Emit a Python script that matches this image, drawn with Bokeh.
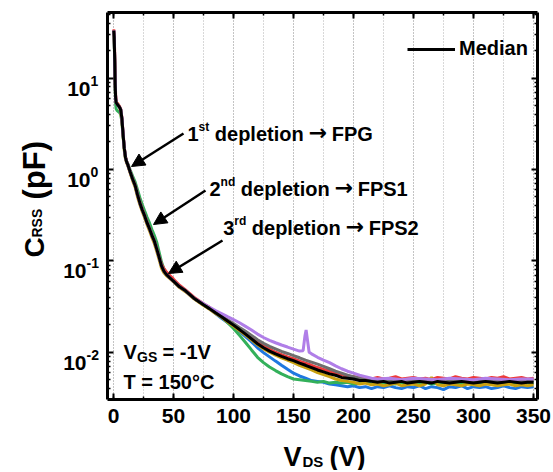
import math
from bokeh.plotting import figure
from bokeh.layouts import row, column
from bokeh.models import (Range1d, LinearAxis, LogAxis, SingleIntervalTicker,
                          FixedTicker, Label, Arrow, NormalHead, CustomJSTickFormatter)
from bokeh.embed import file_html
from bokeh.resources import INLINE

# ---------------- data (V_DS in V, C_RSS in pF) ----------------
V_LOW = [0.2, 0.6, 1.0, 1.4, 1.8, 2.2, 3, 4, 5, 6,
         7, 8, 9, 10, 11, 12, 14, 16, 18, 20,
         22, 24, 26, 28, 30, 32, 34, 36, 38, 40,
         42, 44, 47, 50, 55, 60, 67, 75, 80]

MEDIAN_LOW = [33, 28, 16, 8.5, 6.0, 5.4, 5.2, 5.0, 4.8, 4.5,
              3.6, 2.4, 1.7, 1.35, 1.2, 1.12, 0.93, 0.78, 0.67, 0.53,
              0.43, 0.36, 0.31, 0.26, 0.225, 0.19, 0.165, 0.135, 0.11, 0.088,
              0.077, 0.071, 0.065, 0.060, 0.052, 0.047, 0.039, 0.033, 0.030]
GREEN_LOW = [31, 26, 15, 8.0, 5.2, 4.6, 4.4, 4.3, 4.2, 4.0,
             3.3, 2.3, 1.7, 1.35, 1.22, 1.15, 0.98, 0.84, 0.73, 0.60,
             0.49, 0.41, 0.35, 0.30, 0.26, 0.22, 0.19, 0.16, 0.125, 0.097,
             0.082, 0.073, 0.066, 0.060, 0.052, 0.047, 0.039, 0.033, 0.030]
RED_LOW = [34, 30, 19, 10, 6.5, 5.6, 5.3, 5.1, 4.9, 4.6,
           3.7, 2.5, 1.75, 1.38, 1.22, 1.13, 0.94, 0.79, 0.68, 0.54,
           0.44, 0.37, 0.315, 0.265, 0.228, 0.193, 0.167, 0.137, 0.112, 0.092,
           0.082, 0.076, 0.069, 0.063, 0.054, 0.048, 0.040, 0.034, 0.031]
GOLD_LOW = [32, 27, 15, 8.2, 5.8, 5.4, 5.3, 5.1, 4.8, 4.3,
            3.4, 2.3, 1.6, 1.3, 1.17, 1.09, 0.9, 0.75, 0.64, 0.5,
            0.41, 0.345, 0.295, 0.248, 0.213, 0.18, 0.155, 0.127, 0.103, 0.083,
            0.074, 0.069, 0.064, 0.059, 0.051, 0.046, 0.0385, 0.0325, 0.0295]
BLUE_LOW = MEDIAN_LOW
GRAY_LOW = MEDIAN_LOW

V_TAIL = [85, 90, 95, 100, 105, 110, 115, 120, 125, 130,
          135, 140, 145, 150, 155, 160, 165, 170, 175, 180,
          185, 190, 195, 200, 205, 210, 215, 220, 225, 230,
          235, 240, 245, 250, 255, 260, 265, 270, 275, 280,
          285, 290, 295, 300, 305, 310, 315, 320, 325, 330,
          335, 340, 345, 350]

MEDIAN_TAIL = [0.027, 0.0245, 0.022, 0.0198, 0.0177, 0.0158, 0.014, 0.0124, 0.0112, 0.0103,
               0.0096, 0.009, 0.0085, 0.0081, 0.0076, 0.0072, 0.0068, 0.0064, 0.0061, 0.0058,
               0.0056, 0.0053, 0.0052, 0.0051, 0.0049, 0.0049, 0.0048, 0.0047, 0.0048, 0.0046,
               0.0047, 0.0048, 0.0046, 0.0047, 0.0048, 0.0047, 0.0046, 0.0048, 0.0047, 0.0046,
               0.0047, 0.0048, 0.0047, 0.0046, 0.0047, 0.0048, 0.0047, 0.0046, 0.0047, 0.0048,
               0.0047, 0.0046, 0.0047, 0.0047]
RED_TAIL = [0.0275, 0.025, 0.0225, 0.0203, 0.0182, 0.0163, 0.0145, 0.0129, 0.0117, 0.0108,
            0.0100, 0.0094, 0.0089, 0.0085, 0.0080, 0.0076, 0.0072, 0.0068, 0.0065, 0.0062,
            0.0059, 0.0057, 0.0055, 0.0054, 0.0053, 0.0052, 0.0051, 0.0053, 0.0051, 0.0052,
            0.0054, 0.0051, 0.0052, 0.0053, 0.0051, 0.0052, 0.0050, 0.0053, 0.0052, 0.0051,
            0.0054, 0.0052, 0.0051, 0.0053, 0.0052, 0.0051, 0.0053, 0.0052, 0.0054, 0.0051,
            0.0052, 0.0053, 0.0051, 0.0052]
GOLD_TAIL = [0.0266, 0.0241, 0.0216, 0.0194, 0.0173, 0.0154, 0.0137, 0.0121, 0.0109, 0.0100,
             0.0093, 0.0087, 0.0082, 0.0077, 0.0072, 0.0068, 0.0064, 0.0060, 0.0057, 0.0054,
             0.0051, 0.0049, 0.0048, 0.0047, 0.0045, 0.0046, 0.0044, 0.0045, 0.0043, 0.0044,
             0.0046, 0.0043, 0.0044, 0.0045, 0.0043, 0.0045, 0.0053, 0.0044, 0.0043, 0.0045,
             0.0044, 0.0043, 0.0045, 0.0044, 0.0043, 0.0045, 0.0044, 0.0043, 0.0044, 0.0045,
             0.0043, 0.0044, 0.0043, 0.0044]
GRAY_TAIL = [0.0272, 0.0248, 0.0226, 0.0206, 0.0187, 0.0170, 0.0153, 0.0137, 0.0125, 0.0116,
             0.0109, 0.0102, 0.0097, 0.0092, 0.0087, 0.0082, 0.0078, 0.0074, 0.0070, 0.0066,
             0.0062, 0.0059, 0.0056, 0.0054, 0.0052, 0.0050, 0.0049, 0.0049, 0.0048, 0.0049,
             0.0050, 0.0049, 0.0048, 0.0049, 0.0050, 0.0049, 0.0048, 0.0049, 0.0050, 0.0049,
             0.0048, 0.0049, 0.0050, 0.0049, 0.0048, 0.0049, 0.0050, 0.0049, 0.0048, 0.0049,
             0.0050, 0.0049, 0.0048, 0.0049]
BLUE_TAIL = [0.0265, 0.0235, 0.0212, 0.0190, 0.0168, 0.0148, 0.0130, 0.0112, 0.0099, 0.0089,
             0.0080, 0.0072, 0.0065, 0.0059, 0.0055, 0.0052, 0.0049, 0.0048, 0.0047, 0.0045,
             0.0044, 0.0043, 0.0042, 0.0043, 0.0041, 0.0042, 0.0040, 0.0042, 0.0041, 0.0043,
             0.0041, 0.0040, 0.0042, 0.0041, 0.0043, 0.0040, 0.0042, 0.0041, 0.0039, 0.0042,
             0.0041, 0.0043, 0.0040, 0.0042, 0.0041, 0.0042, 0.0040, 0.0041, 0.0043, 0.0041,
             0.0040, 0.0042, 0.0041, 0.0042]
GREEN_TAIL = [0.0270, 0.0243, 0.0212, 0.0182, 0.0153, 0.0128, 0.0106, 0.0088, 0.0077, 0.0069,
              0.0063, 0.0058, 0.0054, 0.0051, 0.0050, 0.0049, 0.0048, 0.0047, 0.0048, 0.0046,
              0.0047, 0.0046, 0.0047, 0.0045, 0.0046, 0.0047, 0.0045, 0.0046, 0.0047, 0.0046,
              0.0045, 0.0047, 0.0046, 0.0045, 0.0046, 0.0047, 0.0045, 0.0046, 0.0047, 0.0046,
              0.0045, 0.0046, 0.0047, 0.0045, 0.0046, 0.0047, 0.0045, 0.0046, 0.0045, 0.0047,
              0.0046, 0.0045, 0.0046, 0.0046]

V_PURPLE = [75, 80, 85, 90, 95, 100, 105, 110, 115, 120,
            125, 130, 135, 140, 145, 150, 155, 158, 159.5, 160.5,
            161.5, 163, 165, 170, 175, 180, 185, 190, 195, 200,
            205, 210, 215, 220, 230, 240, 250, 260, 270, 280,
            290, 300, 310, 320, 330, 340, 350]
PURPLE_TAIL = [0.034, 0.031, 0.0285, 0.0265, 0.0245, 0.0228, 0.021, 0.0192, 0.0175, 0.0158,
               0.0145, 0.0135, 0.0127, 0.012, 0.0114, 0.0108, 0.0103, 0.0104, 0.0150, 0.0175,
               0.0140, 0.0100, 0.0096, 0.0088, 0.0082, 0.0077, 0.0071, 0.0066, 0.0062, 0.0059,
               0.0056, 0.0054, 0.0052, 0.0051, 0.0052, 0.0050, 0.0052, 0.0051, 0.0050, 0.0052,
               0.0051, 0.0050, 0.0052, 0.0051, 0.0050, 0.0051, 0.0051]

X_MAJOR = 50
Y_TICKS = [0.01, 0.1, 1, 10]
Y_EXPS = ["-2", "-1", "0", "1"]

# ---------------- geometry (picture px) ----------------
FONT = "Liberation Sans"
LEFT_W = 100                 # width of the left label strip
FL, FT, FW, FH = 107, 12, 430, 387
RB = 15                      # right border of main plot
BB = 36                      # bottom border of main plot (tick labels)
BOT_H = 35                   # strip holding the x title
TOTAL_W = FL + FW + RB
X0, X1 = -5.0, 353.3
LY0, LY1 = -2.517, 1.717

yr = Range1d(10 ** LY0, 10 ** LY1)

p = figure(frame_width=FW, frame_height=FH,
           x_range=Range1d(X0, X1), y_range=yr,
           y_axis_type="log", output_backend="svg", toolbar_location=None,
           min_border_left=FL - LEFT_W, min_border_right=RB, min_border_top=FT,
           min_border_bottom=BB)
p.outline_line_color = None

xticker = SingleIntervalTicker(interval=X_MAJOR, num_minor_ticks=2)
minor_y = [m * 10.0 ** e for e in range(-3, 2) for m in range(2, 10)]
yticker = FixedTicker(ticks=Y_TICKS, minor_ticks=minor_y)

top_axis = LinearAxis(ticker=xticker)
right_axis = LogAxis(ticker=yticker)
p.add_layout(top_axis, "above")
p.add_layout(right_axis, "right")

blank = CustomJSTickFormatter(code="return ''")
for ax in [p.below[0], p.left[0], top_axis, right_axis]:
    ax.axis_line_width = 3
    ax.axis_line_color = "black"
    ax.major_tick_in = 6
    ax.major_tick_out = 0
    ax.minor_tick_in = 3
    ax.minor_tick_out = 0
    ax.major_tick_line_width = 2
    ax.minor_tick_line_width = 1.5
    ax.major_tick_line_color = "black"
    ax.minor_tick_line_color = "black"
    ax.axis_label = None

p.below[0].ticker = xticker
p.below[0].major_label_text_font = FONT
p.below[0].major_label_text_font_style = "bold"
p.below[0].major_label_text_font_size = "21px"
p.below[0].major_label_text_color = "black"
p.below[0].major_label_standoff = 9

p.left[0].ticker = yticker
for ax in [p.left[0], top_axis, right_axis]:
    ax.formatter = blank
    ax.major_label_text_font_size = "0px"
    ax.major_label_standoff = 0

p.xgrid.ticker = xticker
p.xgrid.grid_line_color = "#b0b0b0"
p.xgrid.grid_line_dash = "1 2"
p.xgrid.grid_line_width = 1
p.xgrid.minor_grid_line_color = "#b0b0b0"
p.xgrid.minor_grid_line_dash = "1 2"
p.ygrid.visible = False

# ---------------- curves ----------------
traces = [
    (V_LOW + V_TAIL, BLUE_LOW + BLUE_TAIL, "#1f78e0"),
    (V_LOW + V_TAIL, GREEN_LOW + GREEN_TAIL, "#33b05a"),
    (V_LOW + V_TAIL, GOLD_LOW + GOLD_TAIL, "#c9a010"),
    (V_LOW + V_TAIL, RED_LOW + RED_TAIL, "#ee3b3b"),
    (V_LOW + V_TAIL, GRAY_LOW + GRAY_TAIL, "#6e6e6e"),
    (V_LOW[:-2] + V_PURPLE, MEDIAN_LOW[:-2] + PURPLE_TAIL, "#b07ee8"),
]
for xs, ys, col in traces:
    p.line(xs, ys, line_color=col, line_width=3)

p.line(V_LOW + V_TAIL, MEDIAN_LOW + MEDIAN_TAIL, line_color="black", line_width=3,
       legend_label="Median")

lg = p.legend[0]
lg.location = (300, 339)
lg.border_line_color = None
lg.background_fill_alpha = 0
lg.padding = 0
lg.margin = 0
lg.glyph_width = 48
lg.glyph_height = 20
lg.label_standoff = 4
lg.label_text_font = FONT
lg.label_text_font_style = "bold"
lg.label_text_font_size = "20px"
lg.label_text_color = "black"

# ---------------- side strips for texts outside the frame ----------------
left = figure(frame_width=LEFT_W, frame_height=FH, x_range=Range1d(0, LEFT_W), y_range=yr,
              y_axis_type="log", x_axis_location=None, y_axis_location=None,
              output_backend="svg", toolbar_location=None,
              min_border_left=0, min_border_right=0, min_border_top=FT, min_border_bottom=BB)
left.outline_line_color = None
left.grid.visible = False

bottom = figure(frame_width=TOTAL_W, frame_height=BOT_H, x_range=Range1d(0, TOTAL_W),
                y_range=Range1d(0, BOT_H), x_axis_location=None, y_axis_location=None,
                output_backend="svg", toolbar_location=None,
                min_border_left=0, min_border_right=0, min_border_top=0, min_border_bottom=0)
bottom.outline_line_color = None
bottom.grid.visible = False


def lab(fig, ox, oy_bottom, px, py, text, size, align="left", angle=0.0, font=FONT):
    """Place text at picture px (px, py); (ox, oy_bottom) = frame left / bottom of fig."""
    fig.add_layout(Label(x=px - ox, y=oy_bottom - py, x_units="screen", y_units="screen",
                         text=text, text_font=font, text_font_style="bold",
                         text_font_size=f"{size}px", text_align=align,
                         text_baseline="alphabetic", angle=angle, text_color="black"))


FB = FT + FH          # frame bottom in picture px
TB = FB + BB + BOT_H  # bottom strip bottom

# y tick labels 10^n (left strip)
for t, e in zip(Y_TICKS, Y_EXPS):
    ty = 351.7 - (math.log10(t) + 2) * 91.4
    rx = 90 if not e.startswith("-") else 86
    lab(left, 0, FB, rx, ty + 10.5, "10", 21, align="right")
    lab(left, 0, FB, rx, ty + 2.5, e, 14)

rot = math.pi / 2
lab(left, 0, FB, 33.5, 257, "C", 28, angle=rot)
lab(left, 0, FB, 36.5, 237, "RSS", 14, angle=rot)
lab(left, 0, FB, 33.5, 199, "(pF)", 31, angle=rot)

# x title (bottom strip)
lab(bottom, 0, TB, 283, 456, "V", 27)
lab(bottom, 0, TB, 302, 461, "DS", 15)
lab(bottom, 0, TB, 329, 456, "(V)", 27)

# annotations inside main frame
ann = [
    (187, 133, "1", "st", "FPG", 11.1, 10.7),
    (209, 188, "2", "nd", "FPS1", 11.1, 14.7),
    (222.7, 227, "3", "rd", "FPS2", 11.1, 12.0),
]
for x0, yb, num, sup, tgt, w1, w2 in ann:
    lab(p, FL, FB, x0, yb, num, 20)
    lab(p, FL, FB, x0 + w1, yb - 7, sup, 12)
    xd = x0 + w1 + w2 + 5.5
    lab(p, FL, FB, xd, yb, "depletion", 20)
    xa = xd + 88.9 + 5
    lab(p, FL, FB, xa, yb - 1, "\u2192", 22, font="DejaVu Sans")
    lab(p, FL, FB, xa + 18 + 5, yb, tgt, 20)

arrows = [((183, 133), (131, 166)), ((205, 190), (153, 224)), ((222, 240), (168, 273))]
for (sx, sy), (ex, ey) in arrows:
    p.add_layout(Arrow(x_start=sx - FL, y_start=FB - sy, x_end=ex - FL, y_end=FB - ey,
                       start_units="screen", end_units="screen",
                       line_width=2.5, line_color="black",
                       end=NormalHead(size=13, fill_color="black", line_color="black")))

lab(p, FL, FB, 123, 351.7, "V", 20)
lab(p, FL, FB, 136.5, 356, "GS", 14)
lab(p, FL, FB, 162, 351.7, "= -1V", 20)
lab(p, FL, FB, 123, 381.7, "T = 150\u00b0C", 20)

layout = column(row(left, p, spacing=0), bottom, spacing=0)
open("out.html", "w").write(file_html(layout, INLINE))
